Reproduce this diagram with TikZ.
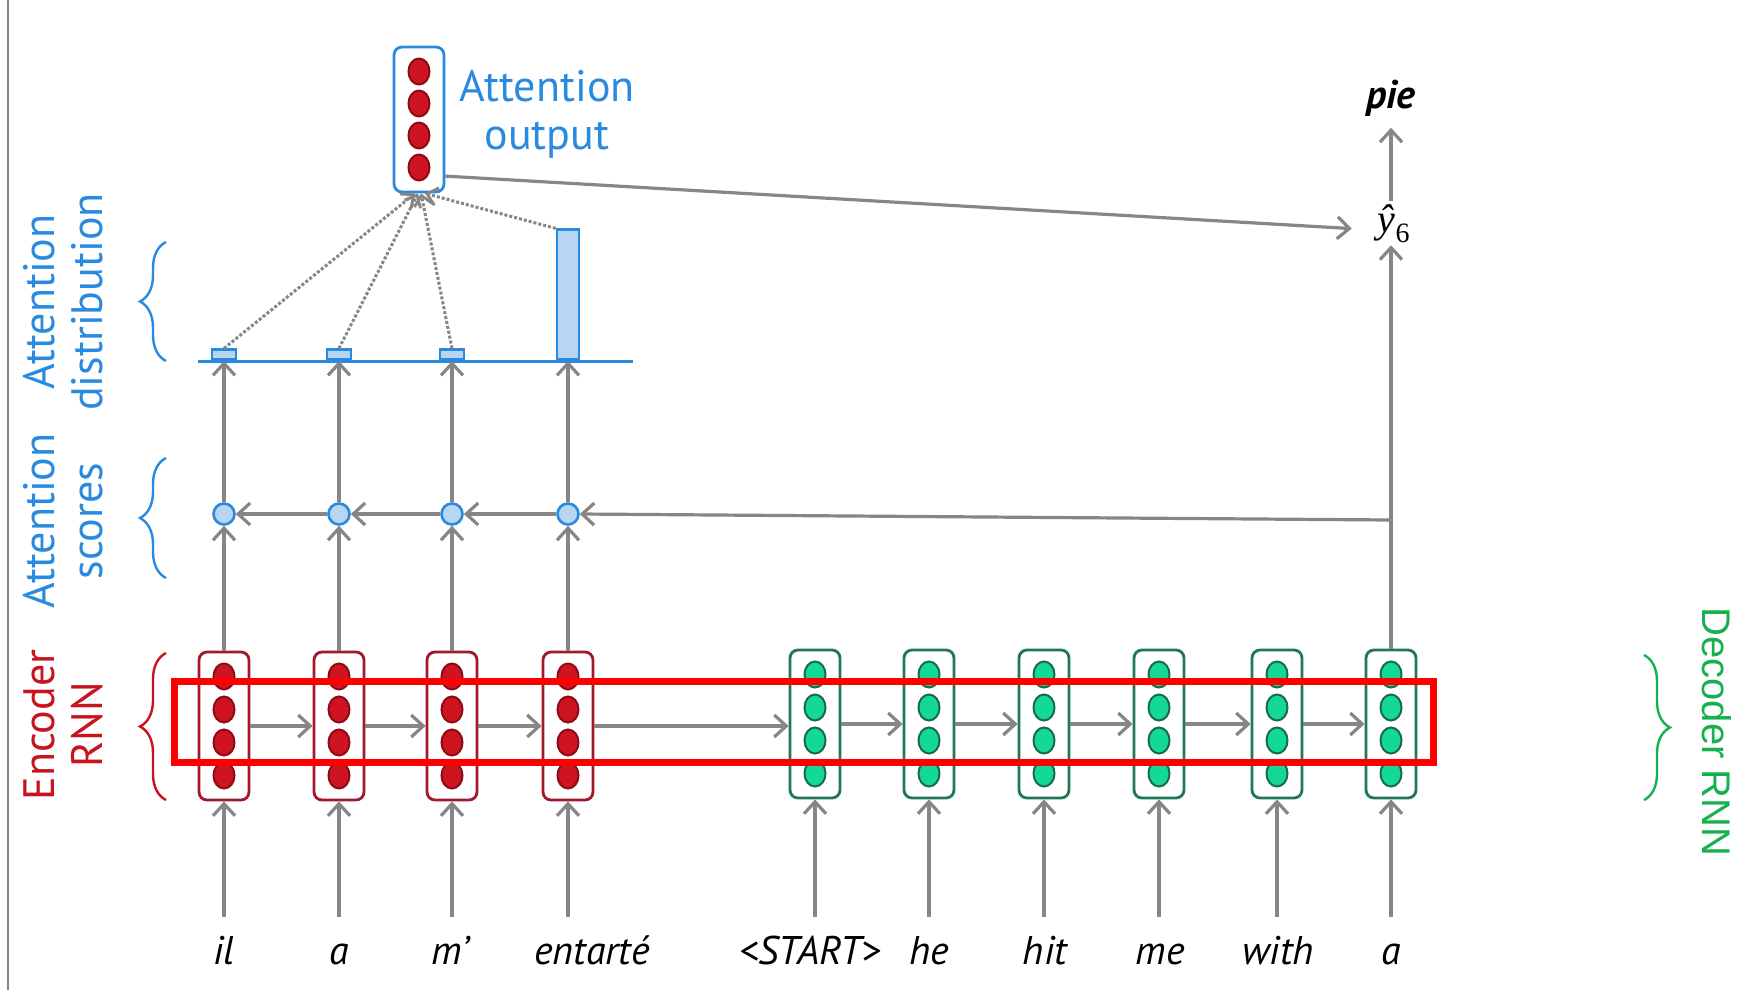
\documentclass[tikz,border=0pt]{standalone}
\usepackage{fontspec}
\setmainfont{PT Sans}
\newfontfamily\decfont{Liberation Sans}
\newfontfamily\serifit{Liberation Serif}
\usetikzlibrary{arrows.meta,decorations.pathreplacing,shapes.geometric}
\definecolor{encred}{HTML}{CE1420}
\definecolor{encdark}{HTML}{8E0B16}
\definecolor{encbox}{HTML}{A3182B}
\definecolor{enclabel}{HTML}{C8141E}
\definecolor{decgreen}{HTML}{14D896}
\definecolor{decdark}{HTML}{1A6B47}
\definecolor{decbox}{HTML}{1F7A52}
\definecolor{declabel}{HTML}{16B04E}
\definecolor{attblue}{HTML}{2A8AE0}
\definecolor{attfill}{HTML}{B8D5F2}
\definecolor{arrgray}{HTML}{868686}
\definecolor{hilite}{HTML}{FF0000}
\begin{document}
\begin{tikzpicture}[x=1pt,y=-1pt,
  tip/.tip={Straight Barb[length=12pt,width=22pt,line width=3.2pt]},
  flow/.style={draw=arrgray, line width=3.2pt, -tip},
  dotflow/.style={draw=arrgray, line width=3pt, dotted, -{Straight Barb[length=10pt,width=18pt,line width=2.8pt]}},
  cellbox/.style={draw, rounded corners=8pt, line width=2.8pt, minimum width=50pt, minimum height=148pt, inner sep=0pt, fill=white},
  dot/.style={ellipse, line width=2pt, minimum width=21pt, minimum height=26pt, inner sep=0pt},
  encdot/.style={dot, fill=encred, draw=encdark},
  decdot/.style={dot, fill=decgreen, draw=decdark},
  score/.style={circle, fill=attfill, draw=attblue, line width=2.6pt, minimum size=21pt, inner sep=0pt},
  bar/.style={rectangle, fill=attfill, draw=attblue, line width=2.6pt, inner sep=0pt, anchor=south},
  bracket/.style={line width=2.4pt, decorate, decoration={brace, amplitude=26pt}},
  sidelabel/.style={align=center, font=\fontsize{44}{48}\selectfont},
  word/.style={anchor=base, font=\fontsize{40}{44}\selectfont\itshape}
]
\useasboundingbox (0,0) rectangle (1742,990);
\fill[white] (0,0) rectangle (1742,990);

% thin frame line on the left
\draw[arrgray, line width=1.4pt] (8,0) -- (8,990);

% encoder cells
\foreach \i/\x in {1/224,2/339,3/452,4/568}{
  \node[cellbox, draw=encbox] (e\i) at (\x,726) {};
  \foreach \k/\dy in {1/-49.5,2/-16.5,3/16.5,4/49.5}
    \node[encdot] (e\i d\k) at (\x,726+\dy) {};
}
% decoder cells
\foreach \i/\x in {1/815,2/929,3/1044,4/1159,5/1277,6/1391}{
  \node[cellbox, draw=decbox] (d\i) at (\x,724) {};
  \foreach \k/\dy in {1/-49.5,2/-16.5,3/16.5,4/49.5}
    \node[decdot] (d\i d\k) at (\x,724+\dy) {};
}

% recurrent connections
\draw[flow] (e1.east) -- (e2.west);
\draw[flow] (e2.east) -- (e3.west);
\draw[flow] (e3.east) -- (e4.west);
\draw[flow] (e4.east) -- (e4.east -| d1.west);
\draw[flow] (d1.east) -- (d2.west);
\draw[flow] (d2.east) -- (d3.west);
\draw[flow] (d3.east) -- (d4.west);
\draw[flow] (d4.east) -- (d5.west);
\draw[flow] (d5.east) -- (d6.west);

% input words
\foreach \n/\x/\t in {1/224/il,2/339/a,3/450/m’,4/592/entarté,5/810/<START>,
                      6/929/he,7/1045/hit,8/1160/me,9/1278/with,10/1391/a}{
  \node[word] (w\n) at (\x,964) {\t};
}
\foreach \n/\x in {1/224,2/339,3/452,4/568}{
  \coordinate (in\n) at (\x,917);
  \draw[flow] (in\n) -- (e\n.south);
}
\foreach \n/\x in {1/815,2/929,3/1044,4/1159,5/1277,6/1391}{
  \coordinate (jn\n) at (\x,917);
  \draw[flow] (jn\n) -- (d\n.south);
}

% attention scores
\foreach \i/\x in {1/224,2/339,3/452,4/568}
  \node[score] (s\i) at (\x,514) {};
\foreach \i in {1,2,3,4}
  \draw[flow] (e\i.north) -- (s\i.south);

% attention distribution
\foreach \i/\x in {1/224,2/339,3/452}
  \node[bar, minimum width=24pt, minimum height=10pt] (b\i) at (\x,361) {};
\node[bar, minimum width=22pt, minimum height=130pt] (b4) at (568,361) {};
\coordinate (baseL) at (198,361);
\coordinate (baseR) at (633,361);
\draw[attblue, line width=3pt] (baseL) -- (baseR);
\foreach \i in {1,2,3,4}
  \draw[flow] (s\i.north) -- (b\i.south);

% decoder output and query
\node[font=\fontsize{40}{46}\selectfont, inner sep=2pt] (yhat) at (1394,224)
  {{\serifit\itshape ŷ}\textsubscript{\serifit 6}};
\node[font=\fontsize{40}{44}\selectfont\bfseries\itshape] (pie) at (1391,98) {pie};
\draw[flow] (d6.north) -- (d6.north |- yhat.south);
\draw[flow, shorten <=2pt, shorten >=8pt] (pie.south |- yhat.north) -- (pie.south);
\coordinate (tap) at (1391,520);
\draw[flow] (tap) -- (s4.east);
\draw[flow] (s4.west) -- (s3.east);
\draw[flow] (s3.west) -- (s2.east);
\draw[flow] (s2.west) -- (s1.east);

% attention output
\node[draw=attblue, line width=2.8pt, rounded corners=8pt, minimum width=50pt, minimum height=145pt, inner sep=0pt, fill=white] (ao) at (419,119.5) {};
\foreach \k/\dy in {1/-48,2/-16,3/16,4/48}
  \node[encdot] (ao d\k) at (419,119.5+\dy) {};
\node[sidelabel, text=attblue] (aolabel) at (547,114) {Attention\\output};
\draw[dotflow] (b1.north) -- ([xshift=-4pt]ao.south);
\draw[dotflow] (b2.north) -- ([xshift=-1pt]ao.south);
\draw[dotflow] (b3.north) -- ([xshift=2pt]ao.south);
\draw[dotflow] (b4.north west) -- ([xshift=6pt]ao.south);
\draw[flow, shorten >=24pt] (ao.-65) -- ([yshift=-6pt]yhat.west);

% braces and labels
\draw[bracket, attblue] (166,361) -- (166,242);
\draw[bracket, attblue] (166,578) -- (166,458);
\draw[bracket, enclabel] (166,800) -- (166,653);
\draw[bracket, declabel] (1644,655) -- (1644,800);
\node[sidelabel, rotate=90, text=attblue] (ldist) at (63,302) {Attention\\distribution};
\node[sidelabel, rotate=90, text=attblue] (lscore) at (63,521) {Attention\\scores};
\node[sidelabel, rotate=90, text=enclabel] (lenc) at (63,725) {Encoder\\RNN};
\node[rotate=-90, text=declabel, font=\decfont\fontsize{40}{44}\selectfont] (ldec) at (1717,732) {Decoder RNN};

% highlighted hidden states
\draw[hilite, line width=7pt] (174,681) rectangle (1433,762);
\end{tikzpicture}
\end{document}
